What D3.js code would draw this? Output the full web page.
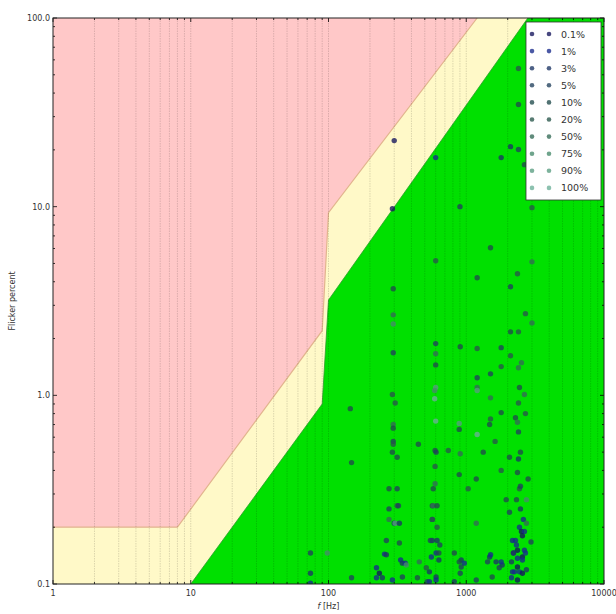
<!DOCTYPE html>
<html>
<head>
<meta charset="utf-8">
<script src="https://cdn.jsdelivr.net/npm/d3@7/dist/d3.min.js"></script>
<style>
  html, body { margin: 0; padding: 0; background: #fff; }
  svg { display: block; font-family: "DejaVu Sans", sans-serif; }
  .tick-label { font-size: 8px; fill: #333; }
  .legend-label { font-size: 9.5px; fill: #333; }
</style>
</head>
<body>
<svg id="chart" width="616" height="614"></svg>
<script>
// Dimming levels shown in the legend, and the marker colour for each.
const levels = ['0.1%', '1%', '3%', '5%', '10%', '20%', '50%', '75%', '90%', '100%'];
const levelColors = ['#14145c', '#182a8c', '#1c3564', '#21405c', '#204a4c', '#28564a',
                     '#336a56', '#468a6c', '#589c80', '#6cb098'];

// Region boundaries, [frequency Hz, flicker %].
const lowRiskEdge = [[1, 0.2], [8, 0.2], [90, 2.2], [100, 9.3], [1200, 100]];
const noEffectEdge = [[10, 0.1], [90, 0.9], [100, 3.2], [2800, 100]];

// Measurements: [frequency Hz, flicker %, level index].
const samples = [
  [74, 0.146, 3], [74, 0.114, 2], [74, 0.101, 1], [98, 0.146, 7],
  [144, 0.85, 4], [147, 0.44, 4], [147, 0.108, 3],
  [223, 0.122, 1], [234, 0.114, 0], [223, 0.108, 1], [246, 0.108, 2], [255, 0.144, 1],
  [263, 0.17, 3], [263, 0.143, 2],
  [275, 0.32, 4], [275, 0.25, 3], [275, 0.22, 6],
  [300, 22.4, 0], [291, 9.75, 0], [295, 3.67, 4], [295, 2.67, 6], [295, 2.39, 7],
  [295, 1.68, 3], [291, 1.01, 5], [295, 0.70, 6], [295, 0.67, 4], [295, 0.57, 3],
  [295, 0.55, 5], [291, 0.50, 4], [300, 0.21, 2], [291, 0.105, 1],
  [305, 0.91, 5], [315, 0.47, 4], [315, 0.32, 3], [315, 0.26, 5], [305, 0.21, 8],
  [322, 0.26, 3], [327, 0.21, 2], [327, 0.165, 4], [334, 0.134, 1], [344, 0.129, 2], [344, 0.109, 3],
  [361, 0.129, 1], [367, 0.126, 7],
  [449, 0.55, 4], [456, 0.131, 6], [442, 0.108, 4],
  [513, 0.122, 5], [521, 0.103, 3],
  [567, 0.26, 4], [567, 0.22, 3], [567, 0.17, 2], [549, 0.17, 3], [558, 0.139, 1],
  [540, 0.116, 2], [540, 0.103, 1], [576, 0.32, 4], [576, 0.26, 6],
  [600, 18.2, 1], [600, 5.17, 5], [600, 1.88, 3], [600, 1.66, 6], [600, 1.45, 4],
  [600, 1.10, 8], [590, 1.06, 7], [590, 0.96, 9], [600, 0.73, 9], [594, 0.51, 4],
  [604, 0.50, 3], [594, 0.42, 5], [594, 0.34, 6], [614, 0.26, 4], [614, 0.20, 5],
  [614, 0.17, 2], [604, 0.146, 1], [604, 0.109, 2], [604, 0.105, 1], [567, 0.22, 5],
  [643, 0.161, 3], [633, 0.134, 2], [633, 0.146, 4],
  [741, 0.51, 5], [819, 0.146, 4], [819, 0.103, 2],
  [900, 10.0, 3], [904, 1.81, 4], [889, 0.71, 8], [889, 0.66, 4], [904, 0.49, 6],
  [889, 0.38, 4], [904, 0.114, 3], [919, 0.134, 2], [889, 0.131, 4], [968, 0.129, 1],
  [919, 0.123, 3], [1033, 0.32, 5],
  [1200, 4.20, 4], [1200, 1.77, 5], [1200, 1.24, 3], [1200, 1.10, 6], [1200, 1.06, 8],
  [1200, 0.62, 9], [1182, 0.36, 4], [1182, 0.21, 6], [1182, 0.105, 3], [1328, 0.50, 4],
  [1500, 6.06, 4], [1500, 1.30, 3], [1500, 0.75, 5], [1478, 0.70, 4], [1500, 0.97, 6],
  [1478, 0.139, 2], [1428, 0.131, 3], [1543, 0.109, 4], [1502, 0.143, 1],
  [1620, 0.57, 5], [1646, 0.131, 2],
  [1793, 18.2, 2], [1793, 1.79, 3], [1793, 1.42, 5], [1793, 0.81, 4], [1793, 0.40, 5],
  [1823, 0.126, 2], [1793, 0.131, 1], [1735, 0.122, 3], [1950, 0.28, 4],
  [2095, 20.8, 2], [2095, 3.76, 3], [2095, 2.17, 4], [2095, 1.62, 5], [2060, 0.47, 4],
  [2060, 0.24, 3], [2166, 0.116, 1], [2130, 0.131, 2], [2166, 0.17, 1], [2202, 0.146, 2],
  [2130, 0.108, 1],
  [2394, 54, 5], [2394, 34.8, 4], [2394, 20.1, 3], [2645, 16.7, 4], [2354, 4.41, 5],
  [2394, 2.17, 5], [2394, 1.40, 6], [2434, 1.10, 4], [2394, 0.91, 5], [2277, 0.76, 4],
  [2354, 0.72, 6], [2394, 0.64, 3], [2474, 0.50, 4], [2394, 0.46, 2], [2354, 0.39, 4],
  [2434, 0.32, 5], [2474, 0.33, 3], [2315, 0.28, 4], [2474, 0.25, 2], [2434, 0.20, 1],
  [2315, 0.161, 1], [2354, 0.151, 0], [2277, 0.17, 1], [2354, 0.137, 1], [2354, 0.123, 0],
  [2240, 0.116, 1], [2354, 0.105, 0], [2434, 0.116, 1], [2202, 0.146, 2],
  [2690, 2.71, 5], [2516, 1.49, 6], [2690, 0.80, 5], [2645, 1.01, 6], [2733, 0.28, 7],
  [2600, 0.22, 1], [2516, 0.19, 0], [2645, 0.19, 1], [2558, 0.18, 0], [2733, 0.21, 6],
  [2645, 0.151, 1], [2558, 0.139, 0], [2558, 0.134, 1], [2558, 0.114, 0], [2733, 0.119, 2],
  [2690, 0.146, 1], [2812, 0.36, 4],
  [3000, 9.88, 5], [3000, 5.10, 6], [3000, 2.42, 6], [2952, 0.167, 3]
];

const xTickValues = [1, 10, 100, 1000, 10000];
const xTickLabels = ['1', '10', '100', '1000', '10000'];
const yTickValues = [0.1, 1, 10, 100];
const yTickLabels = ['0.1', '1.0', '10.0', '100.0'];

(function () {
  const svg = d3.select('#chart');
  const pl = 53, pr = 604, pt = 18, pb = 584;
  const x = d3.scaleLog().domain([1, 10000]).range([pl, pr]);
  const y = d3.scaleLog().domain([0.1, 100]).range([pb, pt]);

  svg.append('defs').append('clipPath').attr('id', 'plot-clip')
    .append('rect').attr('x', pl).attr('y', pt)
    .attr('width', pr - pl).attr('height', pb - pt);

  const plot = svg.append('g').attr('clip-path', 'url(#plot-clip)');

  // Background = high-risk zone.
  plot.append('rect').attr('x', pl).attr('y', pt)
    .attr('width', pr - pl).attr('height', pb - pt).attr('fill', '#ffc8c8');

  // Close a boundary into a polygon that fills everything below / right of it.
  const below = (edge) => edge.concat([[10000, 100], [10000, 0.1], [edge[0][0], 0.1]]);
  const line = d3.line().x((d) => x(d[0])).y((d) => y(d[1]));

  plot.append('path').attr('d', line(below(lowRiskEdge)) + 'Z').attr('fill', '#fff9c8');
  plot.append('path').attr('d', line(lowRiskEdge)).attr('fill', 'none')
    .attr('stroke', '#e2b48e').attr('stroke-width', 1.2);

  plot.append('path').attr('d', line(below(noEffectEdge)) + 'Z').attr('fill', '#00e000');
  plot.append('path').attr('d', line(noEffectEdge)).attr('fill', 'none')
    .attr('stroke', '#2c9a2c').attr('stroke-width', 0.8);

  // Vertical grid at every major and minor x tick.
  const xMinor = [];
  for (let dec = 1; dec < 10000; dec *= 10) for (let k = 1; k < 10; k++) xMinor.push(dec * k);
  plot.append('g').selectAll('line').data(xMinor.slice(1)).join('line')
    .attr('x1', (d) => x(d)).attr('x2', (d) => x(d))
    .attr('y1', pt).attr('y2', pb)
    .attr('stroke', '#000').attr('stroke-opacity', 0.18)
    .attr('stroke-width', 0.8).attr('stroke-dasharray', '1.5,1');

  // Scatter.
  plot.append('g').selectAll('circle').data(samples).join('circle')
    .attr('cx', (d) => x(d[0])).attr('cy', (d) => y(d[1]))
    .attr('r', 2.7)
    .attr('fill', (d) => levelColors[d[2]])
    .attr('fill-opacity', 0.78);

  // Frame and inward ticks on all four sides.
  const yMinor = [];
  for (let dec = 0.1; dec < 99; dec *= 10) for (let k = 2; k < 10; k++) yMinor.push(dec * k);
  const ticks = svg.append('g').attr('stroke', '#000').attr('stroke-width', 0.8);
  xMinor.concat([10000]).forEach((v) => {
    const len = xTickValues.includes(v) ? 4 : 2;
    ticks.append('line').attr('x1', x(v)).attr('x2', x(v)).attr('y1', pb).attr('y2', pb - len);
    ticks.append('line').attr('x1', x(v)).attr('x2', x(v)).attr('y1', pt).attr('y2', pt + len);
  });
  yTickValues.concat(yMinor).forEach((v) => {
    const len = yTickValues.includes(v) ? 4 : 2;
    ticks.append('line').attr('x1', pl).attr('x2', pl + len).attr('y1', y(v)).attr('y2', y(v));
    ticks.append('line').attr('x1', pr).attr('x2', pr - len).attr('y1', y(v)).attr('y2', y(v));
  });
  svg.append('rect').attr('x', pl).attr('y', pt)
    .attr('width', pr - pl).attr('height', pb - pt)
    .attr('fill', 'none').attr('stroke', '#222').attr('stroke-width', 1);

  // Tick labels.
  svg.append('g').selectAll('text').data(xTickValues).join('text')
    .attr('class', 'tick-label').attr('x', (d) => x(d)).attr('y', pb + 12)
    .attr('text-anchor', 'middle').text((d, i) => xTickLabels[i]);
  svg.append('g').selectAll('text').data(yTickValues).join('text')
    .attr('class', 'tick-label').attr('x', pl - 3).attr('y', (d) => y(d) + 3)
    .attr('text-anchor', 'end').text((d, i) => yTickLabels[i]);

  // Axis titles.
  const xt = svg.append('text').attr('class', 'tick-label')
    .attr('x', (pl + pr) / 2).attr('y', 609).attr('text-anchor', 'middle');
  xt.append('tspan').attr('font-style', 'italic').text('f');
  xt.append('tspan').text(' [Hz]');
  svg.append('text').attr('class', 'tick-label')
    .attr('transform', `translate(15, ${(pt + pb) / 2}) rotate(-90)`)
    .attr('text-anchor', 'middle').text('Flicker percent');

  // Legend (two sample markers per entry).
  const lg = svg.append('g');
  lg.append('rect').attr('x', 526).attr('y', 22).attr('width', 75).attr('height', 178)
    .attr('fill', '#fff').attr('stroke', '#333').attr('stroke-width', 0.8);
  const entry = lg.selectAll('g.entry').data(levels).join('g')
    .attr('class', 'entry')
    .attr('transform', (d, i) => `translate(0, ${34 + i * 17.1})`);
  [532, 549].forEach((cx) => {
    entry.append('circle').attr('cx', cx).attr('cy', 0).attr('r', 2.3)
      .attr('fill', (d, i) => levelColors[i]).attr('fill-opacity', 0.78);
  });
  entry.append('text').attr('class', 'legend-label').attr('x', 561).attr('y', 3.5).text((d) => d);
})();
</script>
</body>
</html>
